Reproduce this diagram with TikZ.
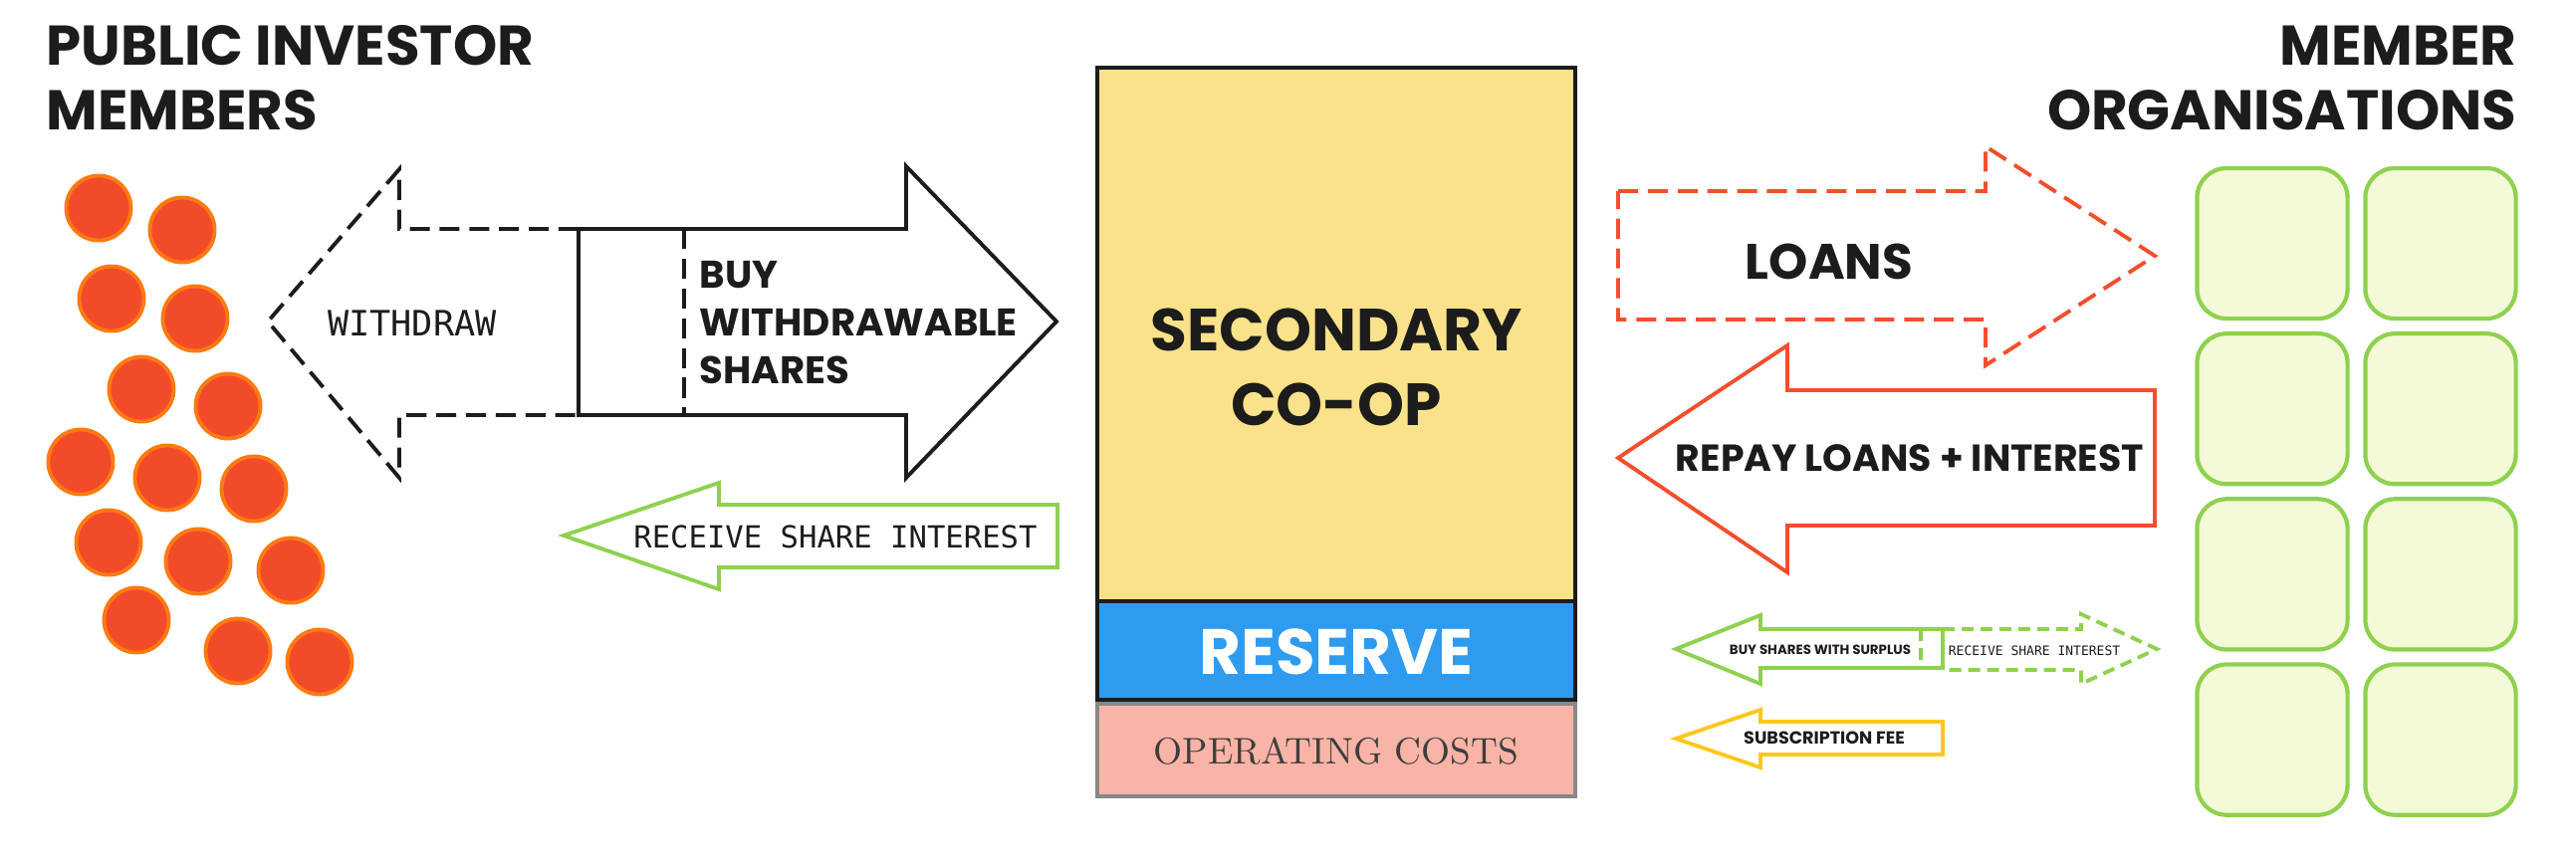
\documentclass[tikz,border=0pt]{standalone}
\usepackage{fontspec}
\newfontfamily\headfont{Poppins}
\newfontfamily\codefont{DejaVu Sans Mono}

\definecolor{ink}{HTML}{1C1C1C}
\definecolor{memberfill}{HTML}{F24B2A}
\definecolor{memberedge}{HTML}{FF7A12}
\definecolor{loanred}{HTML}{F44E2B}
\definecolor{leaf}{HTML}{8FD14F}
\definecolor{leaffill}{HTML}{F4FAD8}
\definecolor{coopyellow}{HTML}{FAE28A}
\definecolor{reserveblue}{HTML}{2E9BEF}
\definecolor{costsalmon}{HTML}{F9B4A7}
\definecolor{costgrey}{HTML}{888888}
\definecolor{feegold}{HTML}{FFC61E}

\tikzset{
  member/.style={circle, draw=memberedge, fill=memberfill, line width=1.1pt,
    minimum size=18.5pt, inner sep=0pt},
  orgbox/.style={draw=leaf, fill=leaffill, line width=1.2pt, rounded corners=8.5pt,
    minimum width=43pt, minimum height=43pt, inner sep=0pt},
  headline/.style={font=\headfont\bfseries\fontsize{16}{19}\selectfont, text=ink, inner sep=0pt},
  bigbold/.style={font=\headfont\bfseries\fontsize{11}{13}\selectfont, text=ink, inner sep=0pt},
  tinybold/.style={font=\headfont\bfseries\fontsize{3.8}{5}\selectfont, text=ink, inner sep=0pt},
  codelabel/.style={font=\codefont\fontsize{8.7}{10}\selectfont, text=ink, inner sep=0pt},
  flow/.style={line width=1.1pt, line join=miter},
  dashflow/.style={flow, dash pattern=on 5.7pt off 2.8pt}
}

\begin{document}
\begin{tikzpicture}[x=0.01cm, y=-0.01cm]
  \useasboundingbox (0,0) rectangle (2587,869);

  % Titles
  \node[headline, anchor=base west] (pubA) at (46,65) {PUBLIC INVESTOR};
  \node[headline, anchor=base west] (pubB) at (46,130) {MEMBERS};
  \node[headline, anchor=base east] (orgA) at (2528,65) {MEMBER};
  \node[headline, anchor=base east] (orgB) at (2528,130) {ORGANISATIONS};

  % Public investor members
  \foreach \x/\y [count=\i] in {99/209, 183/231, 112/300, 196/320, 142/391,
      229/408, 81/464, 168/480, 255/491, 109/545, 199/564, 292/573,
      137/623, 239/654, 321/665}
    \node[member] (m\i) at (\x,\y) {};

  % Member organisations
  \foreach \r in {0,...,3}
    \foreach \c in {0,1}
      \node[orgbox] (org\r\c) at (2282+169*\c, 244.5+166.2*\r) {};

  % Withdraw (dashed, behind)
  \draw[dashflow, ink] (581,230) -- (401,230) -- (401,170) -- (269,323)
    -- (401,480) -- (401,417) -- (581,417);
  \node[codelabel, font=\codefont\fontsize{10}{12}\selectfont,
    anchor=base] (withdraw) at (414,337) {WITHDRAW};

  % Buy withdrawable shares
  \draw[flow, ink, fill=white] (581,230) -- (910,230) -- (910,167) -- (1061,323)
    -- (910,480) -- (910,417) -- (581,417) -- cycle;
  \draw[dashflow, ink] (687,230) -- (687,417);
  \node[bigbold, anchor=base west] (buyA) at (702,289) {BUY};
  \node[bigbold, anchor=base west] (buyB) at (702,337) {WITHDRAWABLE};
  \node[bigbold, anchor=base west] (buyC) at (702,385) {SHARES};

  % Share interest back to investors
  \draw[flow, leaf] (1062,507) -- (722,507) -- (722,485) -- (566,538)
    -- (722,592) -- (722,570) -- (1062,570) -- cycle;
  \node[codelabel, anchor=base] (interest) at (839,550) {RECEIVE SHARE INTEREST};

  % Secondary co-op
  \draw[flow, ink, fill=coopyellow] (1102,68) rectangle (1582,604);
  \draw[flow, ink, fill=reserveblue] (1102,604) rectangle (1582,703);
  \draw[flow, costgrey, fill=costsalmon] (1102,707) rectangle (1582,800);
  \node[headline, font=\headfont\bfseries\fontsize{17}{20}\selectfont,
    anchor=base] (coopA) at (1342,352) {SECONDARY};
  \node[headline, font=\headfont\bfseries\fontsize{17}{20}\selectfont,
    anchor=base] (coopB) at (1342,427) {CO-OP};
  \node[headline, text=white, font=\headfont\bfseries\fontsize{18.3}{21}\selectfont,
    anchor=base] (reserve) at (1342,677) {RESERVE};
  \node[font=\fontsize{10.6}{13}\selectfont, text=ink!85, inner sep=0pt,
    anchor=base] (costs) at (1342,767) {OPERATING COSTS};

  % Loans out
  \draw[dashflow, loanred] (1625,192) -- (1994,192) -- (1994,147) -- (2164,257)
    -- (1994,367) -- (1994,321) -- (1625,321) -- cycle;
  \node[headline, font=\headfont\bfseries\fontsize{14.2}{17}\selectfont,
    anchor=base] (loans) at (1837,280) {LOANS};

  % Repayment
  \draw[flow, loanred] (2164,392) -- (1795,392) -- (1795,347) -- (1625,460)
    -- (1795,575) -- (1795,528) -- (2164,528) -- cycle;
  \node[bigbold, font=\headfont\bfseries\fontsize{10.75}{13}\selectfont,
    anchor=base] (repay) at (1918,473) {REPAY LOANS + INTEREST};

  % Surplus shares and interest
  \draw[flow, leaf, dash pattern=on 3.4pt off 2pt] (1951,632) -- (2090,632)
    -- (2090,617) -- (2166,652) -- (2090,687) -- (2090,673) -- (1951,673);
  \draw[flow, leaf] (1951,632) -- (1768,632) -- (1768,618) -- (1683,652)
    -- (1768,687) -- (1768,671) -- (1951,671) -- cycle;
  \draw[flow, leaf, dash pattern=on 3.4pt off 2pt] (1929,632) -- (1929,671);
  \node[tinybold, anchor=base] (surplus) at (1828,657) {BUY SHARES WITH SURPLUS};
  \node[codelabel, font=\codefont\fontsize{3.7}{4.5}\selectfont,
    anchor=base] (interestB) at (2043,658) {RECEIVE SHARE INTEREST};

  % Subscription fee
  \draw[flow, feegold] (1951,725) -- (1768,725) -- (1768,713) -- (1683,742)
    -- (1768,771) -- (1768,758) -- (1951,758) -- cycle;
  \node[tinybold, font=\headfont\bfseries\fontsize{5}{6}\selectfont,
    anchor=base] (fee) at (1832,747) {SUBSCRIPTION FEE};
\end{tikzpicture}
\end{document}
